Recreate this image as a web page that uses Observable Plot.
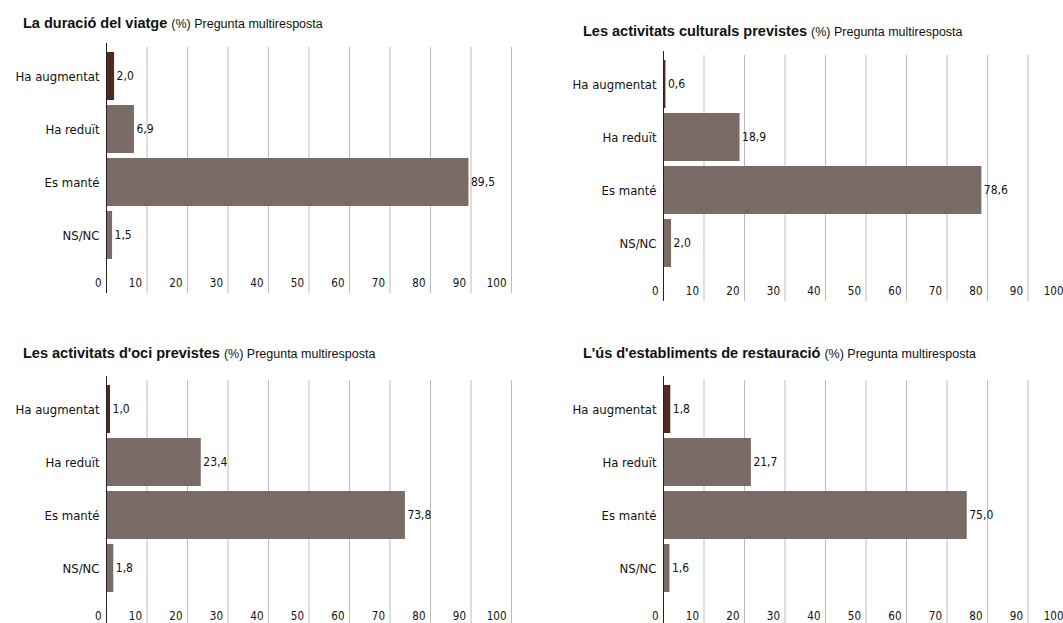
<!DOCTYPE html>
<html>
<head>
<meta charset="utf-8">
<script src="https://cdn.jsdelivr.net/npm/d3@7"></script>
<script src="https://cdn.jsdelivr.net/npm/@observablehq/plot@0.6"></script>
<style>
  html, body { margin: 0; padding: 0; background: #fff; }
  body { width: 1063px; height: 623px; position: relative; overflow: hidden; }
  .title { position: absolute; font-family: "Liberation Sans", Arial, sans-serif; font-size: 14.5px; line-height: 16px; color: #111; white-space: nowrap; }
  .title b { font-weight: bold; }
  .title span { font-size: 12.5px; }
  .panel { position: absolute; width: 530px; }
  .panel svg { overflow: visible; max-width: none !important; }
</style>
</head>
<body>
<script>
const categories = ["Ha augmentat", "Ha reduït", "Es manté", "NS/NC"];
const duracio = [2.0, 6.9, 89.5, 1.5];
const culturals = [0.6, 18.9, 78.6, 2.0];
const oci = [1.0, 23.4, 73.8, 1.8];
const restauracio = [1.8, 21.7, 75.0, 1.6];
const titles = ["La duració del viatge", "Les activitats culturals previstes", "Les activitats d'oci previstes", "L'ús d'establiments de restauració"];
const subtitle = "(%) Pregunta multiresposta";
const xTicks = [0, 10, 20, 30, 40, 50, 60, 70, 80, 90, 100];

const dark = "#512b1f";
const gray = "#7a6b67";
const narrow = "'Liberation Sans Narrow', 'DejaVu Sans Condensed', sans-serif";

const panels = [
  {values: duracio, title: titles[0], left: 0, top: 36, tLeft: 23, tTop: 15},
  {values: culturals, title: titles[1], left: 557, top: 44, tLeft: 583, tTop: 23},
  {values: oci, title: titles[2], left: 0, top: 369, tLeft: 23, tTop: 345},
  {values: restauracio, title: titles[3], left: 557, top: 369, tLeft: 583, tTop: 345}
];

for (const p of panels) {
  const t = document.createElement("div");
  t.className = "title";
  t.style.left = p.tLeft + "px";
  t.style.top = p.tTop + "px";
  t.innerHTML = `<b></b> <span></span>`;
  t.querySelector("b").textContent = p.title;
  t.querySelector("span").textContent = subtitle;
  document.body.appendChild(t);

  const data = categories.map((c, i) => ({cat: c, value: p.values[i]}));
  const chart = Plot.plot({
    width: 530,
    height: 257,
    marginLeft: 106,
    marginRight: 19,
    marginTop: 7,
    marginBottom: 0,
    style: {fontFamily: narrow, fontSize: "13px", color: "#111", background: "transparent"},
    x: {domain: [0, 100], range: [106, 511]},
    y: {domain: categories, range: [10, 230], padding: 0.09},
    color: {domain: categories, range: [dark, gray, gray, gray]},
    marks: [
      Plot.ruleX(xTicks.slice(1), {stroke: "#bcbcbc", strokeWidth: 1, insetTop: 4}),
      Plot.barX(data, {x: "value", y: "cat", fill: "cat"}),
      Plot.ruleX([0], {stroke: "#222", strokeWidth: 1}),
      Plot.text(data, {
        x: "value", y: "cat",
        text: d => d.value.toFixed(1).replace(".", ","),
        textAnchor: "start", dx: 2, fontSize: 12, fill: "#111"
      }),
      Plot.axisY({tickSize: 0, tickPadding: 7, fontSize: 13, label: null}),
      Plot.axisX(xTicks, {anchor: "bottom", tickSize: 0, dy: -24, dx: -5, textAnchor: "end", fontSize: 11.5, label: null, tickFormat: d => String(d)})
    ]
  });
  const wrap = document.createElement("div");
  wrap.className = "panel";
  wrap.style.left = p.left + "px";
  wrap.style.top = p.top + "px";
  wrap.appendChild(chart);
  document.body.appendChild(wrap);
}
</script>
</body>
</html>
